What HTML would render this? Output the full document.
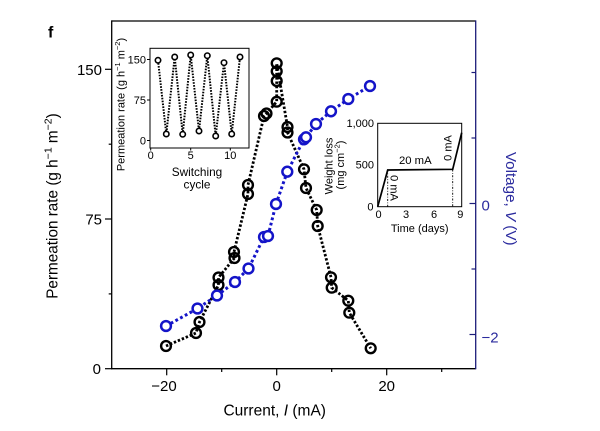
<!DOCTYPE html>
<html>
<head>
<meta charset="utf-8">
<style>
  html,body{margin:0;padding:0;background:#ffffff;}
  svg{display:block;}
  text{font-family:"Liberation Sans", Arial, sans-serif;}
</style>
</head>
<body>
<svg width="600" height="431" viewBox="0 0 600 431" xmlns="http://www.w3.org/2000/svg">
  <rect x="0" y="0" width="600" height="431" fill="#ffffff"/>

  <!-- panel letter -->
  <text x="48" y="37.5" font-size="16" font-weight="bold" fill="#000">f</text>

  <!-- main axes frame -->
  <line x1="111.7" y1="21" x2="475.7" y2="21" stroke="#000" stroke-width="1.3"/>
  <line x1="111.7" y1="20.4" x2="111.7" y2="369.3" stroke="#000" stroke-width="1.3"/>
  <line x1="111.1" y1="368.7" x2="475.7" y2="368.7" stroke="#000" stroke-width="1.3"/>
  <line x1="475.7" y1="20.4" x2="475.7" y2="369.3" stroke="#1c1c7a" stroke-width="1.3"/>

  <!-- left ticks -->
  <g stroke="#000" stroke-width="1.2">
    <line x1="105" y1="69.3" x2="111.7" y2="69.3"/>
    <line x1="105" y1="219" x2="111.7" y2="219"/>
    <line x1="105" y1="368.7" x2="111.7" y2="368.7"/>
    <line x1="108.7" y1="144.2" x2="111.7" y2="144.2"/>
    <line x1="108.7" y1="293.9" x2="111.7" y2="293.9"/>
  </g>
  <!-- bottom ticks -->
  <g stroke="#000" stroke-width="1.2">
    <line x1="166.7" y1="368.7" x2="166.7" y2="375.3"/>
    <line x1="276.7" y1="368.7" x2="276.7" y2="375.3"/>
    <line x1="386.7" y1="368.7" x2="386.7" y2="375.3"/>
    <line x1="221.7" y1="368.7" x2="221.7" y2="372"/>
    <line x1="331.7" y1="368.7" x2="331.7" y2="372"/>
    <line x1="441.7" y1="368.7" x2="441.7" y2="372"/>
  </g>
  <!-- right ticks -->
  <g stroke="#1c1c7a" stroke-width="1.2">
    <line x1="469.5" y1="203.5" x2="475.7" y2="203.5"/>
    <line x1="469.5" y1="334.5" x2="475.7" y2="334.5"/>
    <line x1="471.5" y1="72.5" x2="475.7" y2="72.5"/>
    <line x1="471.5" y1="138" x2="475.7" y2="138"/>
    <line x1="471.5" y1="269" x2="475.7" y2="269"/>
  </g>

  <!-- left tick labels -->
  <g font-size="15" fill="#000" text-anchor="end">
    <text x="102" y="75">150</text>
    <text x="102" y="224.5">75</text>
    <text x="101" y="374">0</text>
  </g>
  <!-- bottom tick labels -->
  <g font-size="15" fill="#000" text-anchor="middle">
    <text x="164" y="391">−20</text>
    <text x="276.7" y="391">0</text>
    <text x="386.7" y="391">20</text>
  </g>
  <!-- right tick labels -->
  <g font-size="15" fill="#2b2b9e">
    <text x="481.5" y="210.5">0</text>
    <text x="481.5" y="342.5">−2</text>
  </g>

  <!-- axis titles -->
  <text transform="translate(57.5,206) rotate(-90)" font-size="15.3" fill="#000" text-anchor="middle">Permeation rate (g h<tspan dy="-6" font-size="10.5">−1</tspan><tspan dy="6"> m</tspan><tspan dy="-6" font-size="10.5">−2</tspan><tspan dy="6">)</tspan></text>
  <text x="274.7" y="415.5" font-size="15.5" fill="#000" text-anchor="middle">Current, <tspan font-style="italic">I</tspan> (mA)</text>
  <text transform="translate(506,198.7) rotate(90)" font-size="15.2" fill="#2b2b9e" text-anchor="middle">Voltage, <tspan font-style="italic">V</tspan> (V)</text>

  <!-- black series -->
  <polyline fill="none" stroke="#000" stroke-width="2.8" stroke-dasharray="2.4 1.9"
    points="166,346 196,333 199.5,322 218.5,285 218.5,277.5 234.5,258 234,252 248,194 248,185 264,116 266.5,113.5 276.7,101.7 276.7,81 276.7,71.3 276.7,63.3 287.5,127 287.5,132.5 304,169.3 306,188 316.7,210 317.7,226 331,277.3 331.7,287.7 348.3,300.7 349.3,312.7 370.7,348.3"/>
  <g fill="none" stroke="#000" stroke-width="2.4">
    <circle cx="166" cy="346" r="4.9"/>
    <circle cx="196" cy="333" r="4.9"/>
    <circle cx="199.5" cy="322" r="4.9"/>
    <circle cx="218.5" cy="285" r="4.9"/>
    <circle cx="218.5" cy="277.5" r="4.9"/>
    <circle cx="234.5" cy="258" r="4.9"/>
    <circle cx="234" cy="252" r="4.9"/>
    <circle cx="248" cy="194" r="4.9"/>
    <circle cx="248" cy="185" r="4.9"/>
    <circle cx="264" cy="116" r="4.9"/>
    <circle cx="266.5" cy="113.5" r="4.9"/>
    <circle cx="276.7" cy="101.7" r="4.9"/>
    <circle cx="276.7" cy="81" r="4.9"/>
    <circle cx="276.7" cy="71.3" r="4.9"/>
    <circle cx="276.7" cy="63.3" r="4.9"/>
    <circle cx="287.5" cy="127" r="4.9"/>
    <circle cx="287.5" cy="132.5" r="4.9"/>
    <circle cx="304" cy="169.3" r="4.9"/>
    <circle cx="306" cy="188" r="4.9"/>
    <circle cx="316.7" cy="210" r="4.9"/>
    <circle cx="317.7" cy="226" r="4.9"/>
    <circle cx="331" cy="277.3" r="4.9"/>
    <circle cx="331.7" cy="287.7" r="4.9"/>
    <circle cx="348.3" cy="300.7" r="4.9"/>
    <circle cx="349.3" cy="312.7" r="4.9"/>
    <circle cx="370.7" cy="348.3" r="4.9"/>
  </g>

  <!-- blue series -->
  <polyline fill="none" stroke="#1414c8" stroke-width="3" stroke-dasharray="2.8 2.6"
    points="166,326 197.5,308.5 217,295.5 235,282 248.5,268.5 264,237 268,236 276,204 287.3,171.7 304,139.3 306,137.3 316,124 331,111.3 348.3,99 370,86"/>
  <g fill="#ffffff" stroke="#1414c8" stroke-width="2.5">
    <circle cx="166" cy="326" r="4.9"/>
    <circle cx="197.5" cy="308.5" r="4.9"/>
    <circle cx="217" cy="295.5" r="4.9"/>
    <circle cx="235" cy="282" r="4.9"/>
    <circle cx="248.5" cy="268.5" r="4.9"/>
    <circle cx="264" cy="237" r="4.9"/>
    <circle cx="268" cy="236" r="4.9"/>
    <circle cx="276" cy="204" r="4.9"/>
    <circle cx="287.3" cy="171.7" r="4.9"/>
    <circle cx="304" cy="139.3" r="4.9"/>
    <circle cx="306" cy="137.3" r="4.9"/>
    <circle cx="316" cy="124" r="4.9"/>
    <circle cx="331" cy="111.3" r="4.9"/>
    <circle cx="348.3" cy="99" r="4.9"/>
    <circle cx="370" cy="86" r="4.9"/>
  </g>

  <!-- Inset 1: switching cycle -->
  <rect x="150" y="48.3" width="99" height="99.7" fill="none" stroke="#000" stroke-width="1"/>
  <g stroke="#000" stroke-width="1">
    <line x1="147" y1="59.5" x2="150" y2="59.5"/>
    <line x1="147" y1="100" x2="150" y2="100"/>
    <line x1="147" y1="140.5" x2="150" y2="140.5"/>
    <line x1="150.7" y1="148" x2="150.7" y2="150.5"/>
    <line x1="190.7" y1="148" x2="190.7" y2="150.5"/>
    <line x1="230.3" y1="148" x2="230.3" y2="150.5"/>
  </g>
  <g font-size="11" fill="#000" text-anchor="end">
    <text x="146" y="63.5">150</text>
    <text x="146" y="104">75</text>
    <text x="146" y="144.5">0</text>
  </g>
  <g font-size="11" fill="#000" text-anchor="middle">
    <text x="150.7" y="159">0</text>
    <text x="190.7" y="159">5</text>
    <text x="230.3" y="159">10</text>
  </g>
  <text x="197" y="176" font-size="11.8" fill="#000" text-anchor="middle">Switching</text>
  <text x="197" y="188.5" font-size="11.8" fill="#000" text-anchor="middle">cycle</text>
  <text transform="translate(124.5,104.5) rotate(-90)" font-size="11" fill="#000" text-anchor="middle">Permeation rate (g h<tspan dy="-4.5" font-size="7.5">−1</tspan><tspan dy="4.5"> m</tspan><tspan dy="-4.5" font-size="7.5">−2</tspan><tspan dy="4.5">)</tspan></text>
  <polyline fill="none" stroke="#000" stroke-width="2" stroke-dasharray="1.6 1.3"
    points="158,60.3 166.3,134 174.7,57 182.7,134.3 190.7,55 199,131 207.3,55.7 215.7,136 224,62.7 231.7,134 240,57"/>
  <g fill="#ffffff" stroke="#000" stroke-width="1.6">
    <circle cx="158" cy="60.3" r="2.7"/>
    <circle cx="166.3" cy="134" r="2.7"/>
    <circle cx="174.7" cy="57" r="2.7"/>
    <circle cx="182.7" cy="134.3" r="2.7"/>
    <circle cx="190.7" cy="55" r="2.7"/>
    <circle cx="199" cy="131" r="2.7"/>
    <circle cx="207.3" cy="55.7" r="2.7"/>
    <circle cx="215.7" cy="136" r="2.7"/>
    <circle cx="224" cy="62.7" r="2.7"/>
    <circle cx="231.7" cy="134" r="2.7"/>
    <circle cx="240" cy="57" r="2.7"/>
  </g>

  <!-- Inset 2: weight loss -->
  <rect x="377.7" y="123.3" width="84" height="83.4" fill="#ffffff" stroke="#000" stroke-width="1"/>
  <polyline fill="none" stroke="#000" stroke-width="1.7" points="377.7,206.7 387.7,170 452.7,169.3 461.7,132.7"/>
  <g stroke="#000" stroke-width="0.9" stroke-dasharray="2 1.5 0.8 1.5">
    <line x1="387.7" y1="170" x2="387.7" y2="206.7"/>
    <line x1="452.7" y1="169.5" x2="452.7" y2="206.7"/>
  </g>
  <g font-size="11" fill="#000" text-anchor="end">
    <text x="374" y="127">1,000</text>
    <text x="374" y="168.5">500</text>
    <text x="373.5" y="210.3">0</text>
  </g>
  <g font-size="11" fill="#000" text-anchor="middle">
    <text x="378.5" y="217.8">0</text>
    <text x="406" y="217.8">3</text>
    <text x="434" y="217.8">6</text>
    <text x="460.3" y="217.8">9</text>
  </g>
  <text x="415.3" y="164" font-size="11.3" fill="#000" text-anchor="middle">20 mA</text>
  <text transform="translate(390.3,188) rotate(90)" font-size="11" fill="#000" text-anchor="middle">0 mA</text>
  <text transform="translate(451.3,148) rotate(-90)" font-size="11" fill="#000" text-anchor="middle">0 mA</text>
  <text transform="translate(332.5,166) rotate(-90)" font-size="11" fill="#000" text-anchor="middle">Weight loss</text>
  <text transform="translate(344,165) rotate(-90)" font-size="11" fill="#000" text-anchor="middle">(mg cm<tspan dy="-4.5" font-size="7.5">−2</tspan><tspan dy="4.5">)</tspan></text>
  <text x="419.7" y="232" font-size="11" fill="#000" text-anchor="middle">Time (days)</text>
</svg>
</body>
</html>
